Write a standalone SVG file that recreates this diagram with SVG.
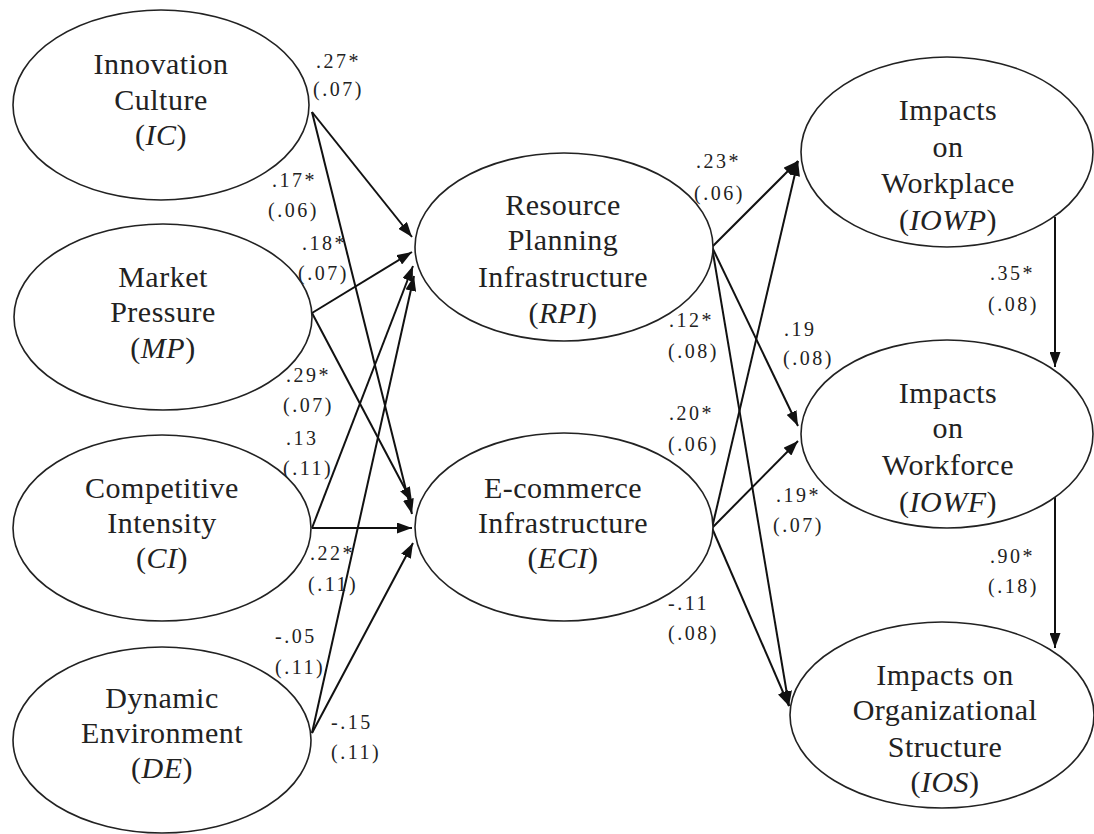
<svg xmlns="http://www.w3.org/2000/svg" width="1094" height="834" viewBox="0 0 1094 834">
<style>
.node ellipse{fill:#fff;stroke:#222;stroke-width:1.6}
.node text{font-size:30px;letter-spacing:0.5px;fill:#222;text-anchor:middle}
.it{font-style:italic}
.edges line{stroke:#111;stroke-width:2;marker-end:url(#ah)}
.lbl{font-size:20px;letter-spacing:2.5px;fill:#222}
</style>
<defs>
<marker id="ah" markerUnits="userSpaceOnUse" markerWidth="15" markerHeight="11" refX="15" refY="5.5" orient="auto">
<path d="M0,0 L15,5.5 L0,11 z" fill="#111"/>
</marker>
</defs>
<rect width="1094" height="834" fill="#fff"/>

<g class="edges">
<line x1="312" y1="112" x2="412" y2="237"/>
<line x1="312" y1="313" x2="412" y2="252"/>
<line x1="312" y1="528" x2="413" y2="266"/>
<line x1="312" y1="733" x2="414" y2="276"/>
<line x1="312" y1="112" x2="412" y2="514"/>
<line x1="312" y1="313" x2="412" y2="502"/>
<line x1="312" y1="528" x2="412" y2="528"/>
<line x1="312" y1="733" x2="413" y2="543"/>
<line x1="712" y1="247" x2="798" y2="161"/>
<line x1="712" y1="247" x2="798" y2="426"/>
<line x1="712" y1="247" x2="789" y2="706"/>
<line x1="712" y1="528" x2="798" y2="161"/>
<line x1="712" y1="528" x2="798" y2="441"/>
<line x1="712" y1="528" x2="789" y2="706"/>
<line x1="1055" y1="217" x2="1055" y2="367"/>
<line x1="1055" y1="497" x2="1055" y2="648"/>
</g>

<g font-family="Liberation Serif, Times New Roman, Tinos, Noto Serif, DejaVu Serif, serif">
<g id="IC" class="node">
<ellipse cx="161" cy="105" rx="148" ry="95"/>
<text x="161" y="74">Innovation</text>
<text x="161" y="110">Culture</text>
<text x="161" y="145">(<tspan class="it">IC</tspan>)</text>
</g>
<g id="MP" class="node">
<ellipse cx="163" cy="317" rx="149" ry="93"/>
<text x="163" y="287">Market</text>
<text x="163" y="322">Pressure</text>
<text x="163" y="358">(<tspan class="it">MP</tspan>)</text>
</g>
<g id="CI" class="node">
<ellipse cx="162" cy="528" rx="149" ry="93"/>
<text x="162" y="498">Competitive</text>
<text x="162" y="533">Intensity</text>
<text x="162" y="568">(<tspan class="it">CI</tspan>)</text>
</g>
<g id="DE" class="node">
<ellipse cx="162" cy="740" rx="149" ry="93"/>
<text x="162" y="708">Dynamic</text>
<text x="162" y="743">Environment</text>
<text x="162" y="778">(<tspan class="it">DE</tspan>)</text>
</g>
<g id="RPI" class="node">
<ellipse cx="564" cy="247" rx="149" ry="94"/>
<text x="563" y="215">Resource</text>
<text x="563" y="250">Planning</text>
<text x="563" y="287">Infrastructure</text>
<text x="563" y="323">(<tspan class="it">RPI</tspan>)</text>
</g>
<g id="ECI" class="node">
<ellipse cx="564" cy="527" rx="149" ry="94"/>
<text x="563" y="498">E-commerce</text>
<text x="563" y="533">Infrastructure</text>
<text x="563" y="568">(<tspan class="it">ECI</tspan>)</text>
</g>
<g id="IOWP" class="node">
<ellipse cx="947" cy="152" rx="146" ry="95"/>
<text x="948" y="120">Impacts</text>
<text x="948" y="157">on</text>
<text x="948" y="193">Workplace</text>
<text x="948" y="230">(<tspan class="it">IOWP</tspan>)</text>
</g>
<g id="IOWF" class="node">
<ellipse cx="947" cy="434" rx="146" ry="94"/>
<text x="948" y="403">Impacts</text>
<text x="948" y="438">on</text>
<text x="948" y="475">Workforce</text>
<text x="948" y="512">(<tspan class="it">IOWF</tspan>)</text>
</g>
<g id="IOS" class="node">
<ellipse cx="942" cy="715" rx="152" ry="93"/>
<text x="945" y="685">Impacts on</text>
<text x="945" y="720">Organizational</text>
<text x="945" y="757">Structure</text>
<text x="945" y="792">(<tspan class="it">IOS</tspan>)</text>
</g>

<g id="labels">
<text class="lbl" x="316" y="68">.27*</text><text class="lbl" x="313" y="96">(.07)</text>
<text class="lbl" x="272" y="187">.17*</text><text class="lbl" x="268" y="217">(.06)</text>
<text class="lbl" x="302" y="250">.18*</text><text class="lbl" x="298" y="280">(.07)</text>
<text class="lbl" x="286" y="382">.29*</text><text class="lbl" x="283" y="412">(.07)</text>
<text class="lbl" x="286" y="445">.13</text><text class="lbl" x="283" y="475">(.11)</text>
<text class="lbl" x="310" y="560">.22*</text><text class="lbl" x="308" y="591">(.11)</text>
<text class="lbl" x="275" y="643">-.05</text><text class="lbl" x="275" y="674">(.11)</text>
<text class="lbl" x="331" y="729">-.15</text><text class="lbl" x="331" y="759">(.11)</text>
<text class="lbl" x="696" y="168">.23*</text><text class="lbl" x="694" y="200">(.06)</text>
<text class="lbl" x="669" y="327">.12*</text><text class="lbl" x="668" y="358">(.08)</text>
<text class="lbl" x="669" y="420">.20*</text><text class="lbl" x="668" y="451">(.06)</text>
<text class="lbl" x="784" y="336">.19</text><text class="lbl" x="783" y="365">(.08)</text>
<text class="lbl" x="776" y="502">.19*</text><text class="lbl" x="773" y="532">(.07)</text>
<text class="lbl" x="668" y="610">-.11</text><text class="lbl" x="668" y="640">(.08)</text>
<text class="lbl" x="990" y="280">.35*</text><text class="lbl" x="988" y="311">(.08)</text>
<text class="lbl" x="990" y="563">.90*</text><text class="lbl" x="988" y="593">(.18)</text>
</g>
</g>
</svg>
